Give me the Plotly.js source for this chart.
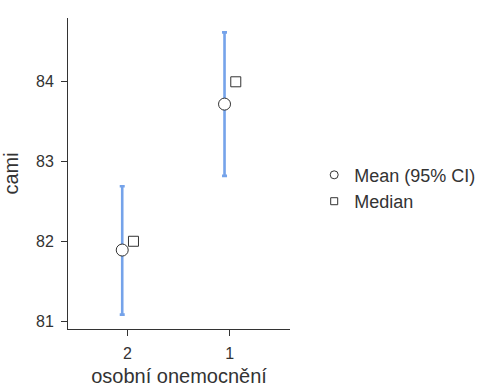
<!DOCTYPE html>
<html><head><meta charset="utf-8">
<script src="https://cdn.plot.ly/plotly-3.0.1.min.js"></script>
<style>body{margin:0;background:#fff}#c{width:493px;height:387px}</style>
</head><body><div id="c"></div>
<script>
const categories = ['2', '1'];
const means = [81.89, 83.72];
const ciLow = [81.08, 82.82];
const ciHigh = [82.69, 84.62];
const medians = [82, 84];
const seriesNames = ['Mean (95% CI)', 'Median'];

const idx = categories.map((c, i) => i);
const meanX = idx.map(i => i - 0.05);
const medX = idx.map(i => i + 0.06);

const traces = [
  {
    x: meanX, y: means, type: 'scatter', mode: 'markers',
    marker: {size: 1, opacity: 0},
    error_y: {type: 'data', symmetric: false,
      array: means.map((m, i) => ciHigh[i] - m),
      arrayminus: means.map((m, i) => m - ciLow[i]),
      color: '#75a3ea', thickness: 2.6, width: 2.5},
    showlegend: false, hoverinfo: 'skip'
  },
  {
    x: meanX, y: means, type: 'scatter', mode: 'markers', showlegend: false,
    marker: {symbol: 'circle', size: 12, color: '#ffffff', line: {color: '#333333', width: 1}}
  },
  {
    x: medX, y: medians, type: 'scatter', mode: 'markers', showlegend: false,
    marker: {symbol: 'square', size: 10, color: '#ffffff', line: {color: '#333333', width: 1}}
  },
  {
    x: [null], y: [null], type: 'scatter', mode: 'markers', name: seriesNames[0],
    marker: {symbol: 'circle', size: 8, color: '#ffffff', line: {color: '#333333', width: 1}}
  },
  {
    x: [null], y: [null], type: 'scatter', mode: 'markers', name: seriesNames[1],
    marker: {symbol: 'square', size: 7, color: '#ffffff', line: {color: '#333333', width: 1}}
  }
];

const layout = {
  width: 493, height: 387,
  margin: {l: 68, r: 201, t: 18, b: 58},
  paper_bgcolor: '#fff', plot_bgcolor: '#fff',
  font: {family: 'Liberation Sans, Arial, sans-serif', color: '#333333'},
  xaxis: {
    range: [-0.58, 1.59], tickvals: idx, ticktext: categories,
    showgrid: false, zeroline: false, showline: true, linecolor: '#333333', linewidth: 1,
    ticks: 'outside', ticklen: 6, tickcolor: '#333333', tickfont: {size: 16, color: '#333333'},
    ticklabelstandoff: 4,
    title: {text: 'osobní onemocnění', font: {size: 20, color: '#333333'}, standoff: 14}
  },
  yaxis: {
    range: [80.9, 84.8], tickvals: [81, 82, 83, 84],
    showgrid: false, zeroline: false, showline: true, linecolor: '#333333', linewidth: 1,
    ticks: 'outside', ticklen: 6, tickcolor: '#333333', tickfont: {size: 16, color: '#333333'},
    ticklabelstandoff: 4,
    title: {text: 'cami', font: {size: 20, color: '#333333'}, standoff: 12}
  },
  legend: {x: 1.109, xanchor: 'left', y: 0.453, yanchor: 'middle',
    font: {size: 18, color: '#333333'}, itemwidth: 30, tracegroupgap: 0},
  showlegend: true
};
Plotly.newPlot('c', traces, layout, {displayModeBar: false, staticPlot: true});
</script></body></html>
